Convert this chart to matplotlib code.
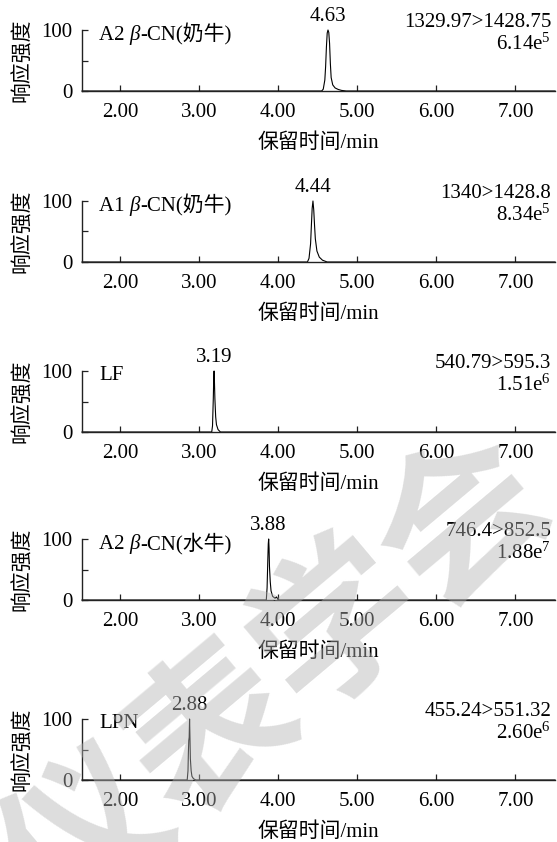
import matplotlib
matplotlib.use("Agg")
import matplotlib.pyplot as plt
from matplotlib.offsetbox import TextArea, HPacker, AnchoredOffsetbox

plt.rcParams["font.family"] = ["Liberation Serif", "Noto Sans CJK SC"]
plt.rcParams["mathtext.fontset"] = "custom"
plt.rcParams["mathtext.rm"] = "Liberation Serif"
plt.rcParams["mathtext.it"] = "Liberation Serif:italic"

# ---- chromatogram data (retention time / min, relative intensity / %) ----
rt_a2_cow = [1.52, 4.55, 4.57, 4.59, 4.60, 4.61, 4.62, 4.63, 4.64, 4.65, 4.66,
             4.67, 4.69, 4.72, 4.76, 4.80, 4.86, 7.50]
int_a2_cow = [0, 0, 3, 18, 40, 72, 95, 100, 96, 78, 45, 22, 10, 5, 2.5, 1, 0, 0]

rt_a1_cow = [1.52, 4.37, 4.39, 4.41, 4.42, 4.43, 4.44, 4.45, 4.46, 4.47, 4.49,
             4.52, 4.56, 4.62, 7.50]
int_a1_cow = [0, 0, 6, 30, 60, 88, 100, 85, 60, 38, 18, 8, 3, 0, 0]

rt_lf = [1.52, 3.16, 3.17, 3.18, 3.185, 3.19, 3.195, 3.20, 3.21, 3.22, 3.24,
         3.27, 7.50]
int_lf = [0, 0, 10, 55, 85, 100, 80, 55, 25, 12, 4, 0, 0]

rt_a2_buffalo = [1.52, 3.85, 3.86, 3.87, 3.875, 3.88, 3.885, 3.89, 3.90, 3.91,
                 3.93, 3.96, 3.98, 4.00, 7.50]
int_a2_buffalo = [0, 0, 20, 70, 92, 100, 85, 55, 30, 15, 6, 3, 5, 0, 0]

rt_lpn = [1.52, 2.85, 2.86, 2.865, 2.87, 2.875, 2.88, 2.885, 2.89, 2.90, 2.91,
          2.93, 2.96, 7.50]
int_lpn = [0, 0, 15, 45, 65, 70, 100, 70, 35, 15, 6, 2, 0, 0]

peak_rt = [4.63, 4.44, 3.19, 3.88, 2.88]
peak_labels = ["4.63", "4.44", "3.19", "3.88", "2.88"]
transitions = ["1329.97>1428.75", "1340>1428.8", "540.79>595.3",
               "746.4>852.5", "455.24>551.32"]
intensity_max = ["6.14e$^{5}$", "8.34e$^{5}$", "1.51e$^{6}$",
                 "1.88e$^{7}$", "2.60e$^{6}$"]
# compound names: (prefix, italic part, suffix)
names = [("A2 ", "β", "-CN(奶牛)"), ("A1 ", "β", "-CN(奶牛)"),
         ("LF", "", ""), ("A2 ", "β", "-CN(水牛)"), ("LPN", "", "")]

traces = [(rt_a2_cow, int_a2_cow), (rt_a1_cow, int_a1_cow), (rt_lf, int_lf),
          (rt_a2_buffalo, int_a2_buffalo), (rt_lpn, int_lpn)]

x_ticks = [2, 3, 4, 5, 6, 7]
x_ticklabels = ["2.00", "3.00", "4.00", "5.00", "6.00", "7.00"]
y_ticks = [0, 50, 100]
y_ticklabels = ["0", "", "100"]
x_label = "保留时间/min"
y_label = "响应强度"

# ---- layout (pixels of a 557 x 842 canvas) ----
W, H = 557, 842
fig = plt.figure(figsize=(W / 100, H / 100), dpi=100)
zero_px = [91, 262, 432, 600, 780]
ax_h = 61
left_px, right_px = 82, 555
FS = 15

for k, (rt, inten) in enumerate(traces):
    ax = fig.add_axes([left_px / W, 1 - zero_px[k] / H,
                       (right_px - left_px) / W, ax_h / H])
    ax.plot(rt, inten, color="black", lw=0.8, clip_on=False)
    ax.set_xlim(1.52, 7.5)
    ax.set_ylim(0, 100)

    for s in ("top", "right"):
        ax.spines[s].set_visible(False)
    ax.spines["left"].set_bounds(0, 100)
    for s in ("left", "bottom"):
        ax.spines[s].set_linewidth(1.0)
        ax.spines[s].set_color("#222222")

    ax.set_xticks(x_ticks)
    ax.set_xticklabels(x_ticklabels)
    ax.set_yticks(y_ticks)
    ax.set_yticklabels(y_ticklabels)
    ax.tick_params(axis="both", direction="in", length=4, width=0.9,
                   labelsize=FS, color="#222222")
    ax.tick_params(axis="x", pad=8.5)
    ax.tick_params(axis="y", pad=7)

    ax.set_xlabel(x_label, fontsize=FS, labelpad=8)
    ax.set_ylabel(y_label, fontsize=FS)
    ax.yaxis.set_label_coords(-0.104, 0.5)

    # peak retention time above the apex
    apex = max(inten)
    ax.annotate(peak_labels[k], xy=(peak_rt[k], apex), xytext=(0, 3),
                textcoords="offset points", ha="center", va="bottom",
                fontsize=FS)

    # compound name
    pre, ital, suf = names[k]
    parts = [TextArea(pre, textprops=dict(size=FS))]
    if ital:
        parts.append(TextArea(ital, textprops=dict(size=FS, style="italic")))
        parts.append(TextArea(suf, textprops=dict(size=FS)))
    pack = HPacker(children=parts, align="baseline", pad=0, sep=0)
    box = AnchoredOffsetbox(loc="center left", child=pack, pad=0, borderpad=0,
                            frameon=False, bbox_to_anchor=(0.036, 0.93),
                            bbox_transform=ax.transAxes)
    ax.add_artist(box)

    # MRM transition and maximum intensity
    ax.text(0.992, 1.13, transitions[k], transform=ax.transAxes,
            ha="right", va="center", fontsize=FS)
    ax.text(0.992, 0.76, intensity_max[k], transform=ax.transAxes,
            ha="right", va="center", fontsize=FS)

# society watermark
fig.text(0.945, 0.45, "中国仪器仪表学会", rotation=40, rotation_mode="anchor",
         ha="right", va="center", fontsize=118, family="Noto Sans CJK SC",
         weight="bold", color=(0.70, 0.70, 0.70), alpha=0.45, zorder=10)

fig.savefig("out.png", dpi=100)
